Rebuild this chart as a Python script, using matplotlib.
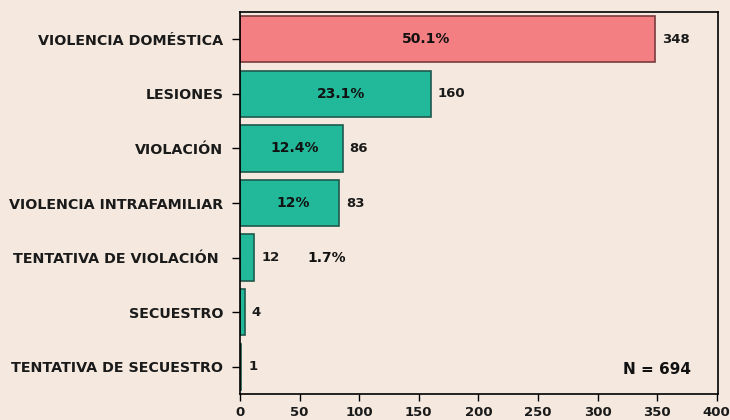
import matplotlib
matplotlib.use("Agg")
import matplotlib.pyplot as plt

categories = ["VIOLENCIA DOMÉSTICA", "LESIONES", "VIOLACIÓN", "VIOLENCIA INTRAFAMILIAR",
              "TENTATIVA DE VIOLACIÓN ", "SECUESTRO", "TENTATIVA DE SECUESTRO"]
counts = [348, 160, 86, 83, 12, 4, 1]
percent_labels = ["50.1%", "23.1%", "12.4%", "12%", "1.7%", "", ""]
total_label = "N = 694"
xticks = [0, 50, 100, 150, 200, 250, 300, 350, 400]

bg = "#F5E9DF"
colors = ["#F47F83"] + ["#22B99A"] * (len(counts) - 1)
edges = ["#7A3A3C"] + ["#1E5A4C"] * (len(counts) - 1)

plt.rcParams['font.family'] = ['DejaVu Sans']
fig = plt.figure(figsize=(7.3, 4.2), dpi=100, facecolor=bg)
ax = fig.add_axes([240/730, 26/420, 478/730, 382/420], facecolor=bg)

y = list(range(len(counts)))
ax.barh(y, counts, height=0.85, color=colors, edgecolor=edges, linewidth=1.2)
ax.set_ylim(len(counts) - 0.5, -0.5)
ax.set_xlim(0, 401)
ax.set_yticks(y)
ax.set_yticklabels(categories, fontsize=10.3, fontweight='bold', color='#1a1a1a')
ax.set_xticks(xticks)
ax.set_xticklabels([str(t) for t in xticks], fontsize=9.5, fontweight='bold', color='#1a1a1a')
ax.tick_params(axis='y', length=6, width=1, pad=6)
ax.tick_params(axis='x', length=5, width=1, pad=4)
for s in ax.spines.values():
    s.set_linewidth(1.2)
    s.set_color('black')

# x positions of the percentage labels (layout, not data)
pct_x = [156, 85, 46, 44.5, 73]
for i, (c, p) in enumerate(zip(counts, percent_labels)):
    ax.text(c + 6, i, str(c), va='center', ha='left', fontsize=9.5, fontweight='bold', color='#1a1a1a')
    if p:
        ax.text(pct_x[i], i, p, va='center', ha='center', fontsize=10, fontweight='bold', color='#111111')

ax.text(0.944, 0.065, total_label, transform=ax.transAxes, ha='right', va='center',
        fontsize=11, fontweight='bold', color='#111111')

fig.savefig("out.png", dpi=100, facecolor=bg)
